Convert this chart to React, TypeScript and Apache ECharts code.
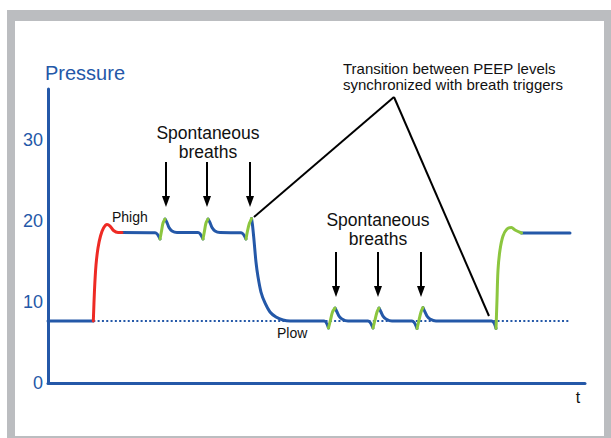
import { useEffect, useRef } from 'react';
import * as echarts from 'echarts';

const BLUE = '#2458a8';
const RED = '#ee2a24';
const GREEN = '#8cc63f';
const FONT = '"Liberation Sans", Arial, Helvetica, sans-serif';

// y-axis ticks (pressure)
const yTicks = [0, 10, 20, 30];

// pressure waveform (time in arbitrary units, pressure in cmH2O)
const waveTime = [
  0, 8.44, 8.66, 8.94, 9.31, 9.78, 10.34, 10.99, 11.55, 12.2, 13.04, 13.78,
  19.93, 20.86, 21.14, 21.42, 21.79, 22.16, 22.53, 23.09, 24.02,
  27.93, 28.86, 29.14, 29.42, 29.8, 30.17, 30.54, 31.1, 32.03,
  35.94, 36.87, 37.15, 37.52, 37.9, 38.08, 38.36, 38.73, 39.11, 39.66, 40.41, 41.34, 42.46, 43.76, 45.07,
  51.4, 52.23, 52.61, 52.98, 53.45, 53.82, 54.19, 54.75, 55.87,
  59.59, 60.52, 60.89, 61.27, 61.64, 62.01, 62.38, 62.94, 64.06,
  67.78, 68.72, 69.09, 69.46, 69.83, 70.2, 70.58, 71.14, 72.25,
  82.59, 83.43, 83.61, 83.8, 84.17, 84.73, 85.47, 86.31, 86.96, 88.18, 97.21,
];
const wavePressure = [
  7.65, 7.65, 11.48, 14.57, 16.67, 18.15, 19.14, 19.57, 19.38, 18.83, 18.58, 18.58,
  18.55, 17.78, 18.77, 19.75, 20.25, 19.81, 19.2, 18.77, 18.58,
  18.58, 17.78, 18.77, 19.75, 20.25, 19.81, 19.2, 18.77, 18.58,
  18.55, 17.78, 18.77, 19.75, 20.31, 19.51, 17.65, 14.94, 13.09, 11.23, 9.88, 8.77, 8.15, 7.78, 7.65,
  7.65, 6.79, 7.78, 8.77, 9.26, 8.77, 8.27, 7.9, 7.65,
  7.65, 6.79, 7.78, 8.77, 9.26, 8.77, 8.27, 7.9, 7.65,
  7.65, 6.73, 7.78, 8.77, 9.32, 8.77, 8.27, 7.9, 7.65,
  7.65, 6.73, 10.25, 13.95, 16.42, 18.15, 19.01, 19.2, 18.89, 18.52, 18.52,
];
// colour of the segment starting at each point: b = blue, r = red (mandatory rise), g = green (triggered)
const waveSegment =
  'brrrrrrrrrrb' +
  'bgggbbbbb' +
  'bgggbbbbb' +
  'bgggbbbbbbbbbbb' +
  'bgggbbbbb' +
  'bgggbbbbb' +
  'bgggbbbbb' +
  'bggggggggbb';

const baselinePressure = 7.65;
const baselineSpan = [8.44, 97.21];

const highArrowTimes = [21.97, 29.61, 37.62];
const highArrowFrom = 27.28;
const highArrowTo = 22.41;
const lowArrowTimes = [53.63, 61.45, 69.46];
const lowArrowFrom = 16.17;
const lowArrowTo = 11.3;

const transitionApex = [64.43, 35.31];
const transitionEnds = [
  [38.36, 20.49],
  [82.12, 8.27],
];

const colourOf: Record<string, string> = { b: BLUE, r: RED, g: GREEN };

function buildRuns() {
  const runs: { c: string; pts: number[][] }[] = [];
  let start = 0;
  const n = waveTime.length;
  for (let i = 1; i < n; i++) {
    if (i === n - 1 || waveSegment[i] !== waveSegment[start]) {
      const pts: number[][] = [];
      for (let k = start; k <= i; k++) pts.push([waveTime[k], wavePressure[k]]);
      runs.push({ c: waveSegment[start], pts });
      start = i;
    }
  }
  return runs;
}

function label(text: string, x: number, y: number, size: number, align: string, fill = '#111') {
  return {
    type: 'text',
    x,
    y,
    style: { text, fill, font: `${size}px ${FONT}`, align, verticalAlign: 'middle' },
  };
}

export default function App() {
  const ref = useRef<HTMLDivElement>(null);
  useEffect(() => {
    if (!ref.current) return;
    const chart = echarts.init(ref.current, undefined, { renderer: 'svg' });
    const runs = buildRuns();
    const waveSeries = runs.map((r) => ({
      type: 'line',
      data: r.pts,
      showSymbol: false,
      smooth: 0.3,
      silent: true,
      z: r.c === 'b' ? 3 : 4,
      lineStyle: { color: colourOf[r.c], width: 3, cap: 'round', join: 'round' },
    }));
    const arrowLines: any[] = [];
    highArrowTimes.forEach((t) =>
      arrowLines.push([{ coord: [t, highArrowFrom] }, { coord: [t, highArrowTo] }])
    );
    lowArrowTimes.forEach((t) =>
      arrowLines.push([{ coord: [t, lowArrowFrom] }, { coord: [t, lowArrowTo] }])
    );
    const transitionLines = transitionEnds.map((e) => [
      { coord: transitionApex },
      { coord: e },
    ]);
    const option: any = {
      animation: false,
      grid: { left: 48, right: 26, top: 89, bottom: 55 },
      xAxis: {
        type: 'value',
        min: 0,
        max: 100,
        axisLine: { lineStyle: { color: BLUE, width: 3 } },
        axisTick: { show: false },
        axisLabel: { show: false },
        splitLine: { show: false },
      },
      yAxis: {
        type: 'value',
        min: 0,
        max: 36.3,
        interval: 10,
        axisLine: { show: true, lineStyle: { color: BLUE, width: 3 } },
        axisTick: { show: false },
        splitLine: { show: false },
        axisLabel: {
          color: BLUE,
          fontSize: 18,
          fontFamily: FONT,
          margin: 5,
          formatter: (v: number) => (yTicks.indexOf(v) >= 0 ? String(v) : ''),
        },
      },
      series: [
        {
          type: 'line',
          data: [
            [baselineSpan[0], baselinePressure],
            [baselineSpan[1], baselinePressure],
          ],
          showSymbol: false,
          silent: true,
          z: 2,
          lineStyle: { color: BLUE, width: 2, type: [2, 2.3] },
          markLine: {
            silent: true,
            animation: false,
            symbol: ['none', 'triangle'],
            symbolSize: [8, 11],
            label: { show: false },
            lineStyle: { color: '#000', width: 2, type: 'solid' },
            emphasis: { disabled: true },
            data: arrowLines,
          },
        },
        {
          type: 'line',
          data: [],
          silent: true,
          markLine: {
            silent: true,
            animation: false,
            symbol: ['none', 'none'],
            label: { show: false },
            lineStyle: { color: '#000', width: 2, type: 'solid' },
            emphasis: { disabled: true },
            data: transitionLines,
          },
        },
        ...waveSeries,
      ],
      graphic: [
        label('Pressure', 45, 73, 20, 'left', BLUE),
        label('t', 578, 397, 16, 'center'),
        label('Phigh', 112, 217, 14, 'left'),
        label('Plow', 277, 333, 14, 'left'),
        label('Spontaneous', 208, 133, 17.5, 'center'),
        label('breaths', 208, 151.5, 17.5, 'center'),
        label('Spontaneous', 378, 220, 17.5, 'center'),
        label('breaths', 378, 238.5, 17.5, 'center'),
        label('Transition between PEEP levels', 343, 68, 15, 'left'),
        label('synchronized with breath triggers', 343, 84, 15, 'left'),
      ],
    };
    chart.setOption(option);
    return () => chart.dispose();
  }, []);

  return (
    <div style={{ position: 'fixed', left: 0, top: 0, width: 611, height: 438, background: '#fff' }}>
      <div style={{ position: 'absolute', left: 7, top: 10, width: 604, height: 428, background: '#bbbdc0' }} />
      <div style={{ position: 'absolute', left: 15, top: 21, width: 589, height: 415, background: '#fff' }} />
      <div ref={ref} style={{ position: 'absolute', left: 0, top: 0, width: 611, height: 438 }} />
    </div>
  );
}
